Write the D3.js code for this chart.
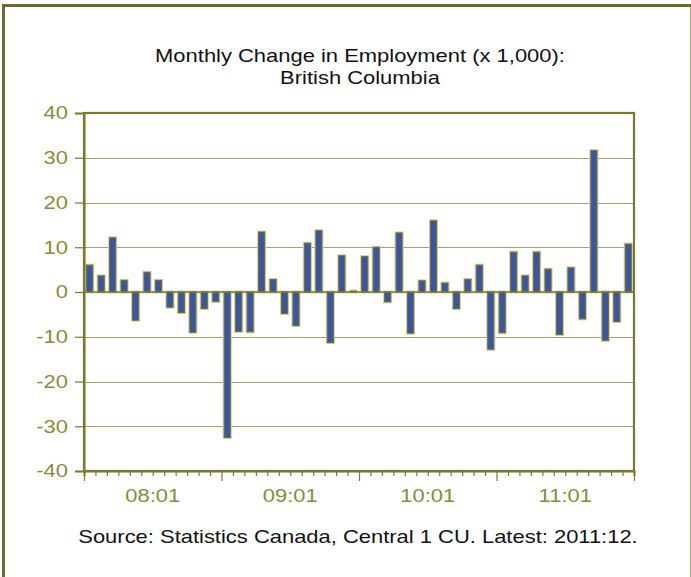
<!DOCTYPE html>
<html>
<head>
<meta charset="utf-8">
<script src="https://cdn.jsdelivr.net/npm/d3@7"></script>
<style>
  html, body { margin: 0; padding: 0; background: #fff; }
  svg { display: block; font-family: "Liberation Sans", Arial, sans-serif; }
</style>
</head>
<body>
<svg id="chart" width="691" height="577"></svg>
<script>
const titleLines = ["Monthly Change in Employment (x 1,000):", "British Columbia"];
const sourceText = "Source: Statistics Canada, Central 1 CU. Latest: 2011:12.";

const years = ["08", "09", "10", "11"];
const monthsInYear = ["01","02","03","04","05","06","07","08","09","10","11","12"];
const categories = [];
years.forEach(y => monthsInYear.forEach(m => categories.push(y + ":" + m)));

const values = [
  6.0, 3.6, 12.1, 2.6, -6.3, 4.4, 2.6, -3.4, -4.6, -9.0, -3.7, -2.1,
  -32.5, -8.8, -8.9, 13.4, 2.8, -4.8, -7.5, 10.9, 13.7, -11.3, 8.1, 0.2,
  7.9, 10.0, -2.2, 13.2, -9.2, 2.5, 15.9, 2.0, -3.7, 2.8, 6.0, -12.8,
  -9.1, 8.9, 3.6, 8.9, 5.1, -9.5, 5.4, -6.0, 31.6, -10.8, -6.6, 10.7
];

const yTicks = [-40, -30, -20, -10, 0, 10, 20, 30, 40];
const xTickLabels = ["08:01", "09:01", "10:01", "11:01"];

const olive = "#7a7a2e";
const labelColor = "#8a8b3a";
const SX = 1.22; // horizontal text stretch seen in the reference

const svg = d3.select("#chart");

// outer border: thick top and left, thin right
svg.append("path").attr("d", "M3.5,577 V5.5 H691")
  .attr("fill", "none").attr("stroke", "#6b6b2b").attr("stroke-width", 3);
svg.append("line").attr("x1", 690.5).attr("x2", 690.5).attr("y1", 7).attr("y2", 577)
  .attr("stroke", "#a8a880").attr("stroke-width", 1);

const plot = { left: 84, right: 634, top: 113, bottom: 471 };

const y = d3.scaleLinear().domain([-40, 40]).range([plot.bottom, plot.top]);
const x = d3.scaleBand().domain(categories).range([plot.left, plot.right])
  .paddingInner(0.47).paddingOuter(0.235);
const xi = d3.scaleLinear().domain([0, categories.length]).range([plot.left, plot.right]);

// gridlines
svg.append("g").selectAll("line").data(yTicks.filter(t => t > -40 && t < 40)).join("line")
  .attr("x1", plot.left).attr("x2", plot.right)
  .attr("y1", d => Math.round(y(d)) + 0.5).attr("y2", d => Math.round(y(d)) + 0.5)
  .attr("stroke", "#a3a36a").attr("stroke-width", 1.2);

// bars (halo + bar)
const zero = y(0);
svg.append("g").selectAll("rect").data(values).join("rect")
  .attr("x", (d, i) => x(categories[i]))
  .attr("width", x.bandwidth())
  .attr("y", d => Math.min(y(d), zero))
  .attr("height", d => Math.abs(y(d) - zero))
  .attr("fill", "none").attr("stroke", "#cfcfa8").attr("stroke-width", 3);
svg.append("g").selectAll("rect").data(values).join("rect")
  .attr("x", (d, i) => x(categories[i]))
  .attr("width", x.bandwidth())
  .attr("y", d => Math.min(y(d), zero))
  .attr("height", d => Math.abs(y(d) - zero))
  .attr("fill", "#3b55a6").attr("stroke", "#6f6f2c").attr("stroke-width", 1);

// zero line
svg.append("line").attr("x1", plot.left).attr("x2", plot.right)
  .attr("y1", zero).attr("y2", zero).attr("stroke", olive).attr("stroke-width", 1.5);

// plot frame
svg.append("rect").attr("x", plot.left).attr("y", plot.top)
  .attr("width", plot.right - plot.left).attr("height", plot.bottom - plot.top)
  .attr("fill", "none").attr("stroke", olive).attr("stroke-width", 2.2);

// y axis
const yAxis = d3.axisLeft(y).tickValues(yTicks).tickSize(9).tickPadding(6).tickFormat(d3.format("d"));
const gy = svg.append("g").attr("transform", `translate(${plot.left},0)`).call(yAxis);
gy.select(".domain").attr("stroke", olive).attr("stroke-width", 2);
gy.selectAll(".tick line").attr("stroke", olive).attr("stroke-width", 1.2);
gy.selectAll(".tick text").attr("fill", labelColor).attr("font-size", 18)
  .attr("font-family", "Liberation Sans, Arial, sans-serif")
  .attr("x", 0).attr("transform", `translate(-16,0) scale(${SX},1)`)
  .text(d => d < 0 ? "-" + Math.abs(d) : d);

// x axis ticks
const tickIdx = d3.range(0, categories.length + 1);
const xAxis = d3.axisBottom(xi).tickValues(tickIdx).tickSize(5).tickFormat("");
const gx = svg.append("g").attr("transform", `translate(0,${plot.bottom})`).call(xAxis);
gx.select(".domain").attr("stroke", olive).attr("stroke-width", 2);
gx.selectAll(".tick line").attr("stroke", olive).attr("stroke-width", 1.2)
  .attr("y2", d => d % 12 === 0 ? 10 : 5);

// x labels centered in each year
svg.append("g").selectAll("text").data(xTickLabels).join("text")
  .attr("transform", (d, i) => `translate(${xi(i * 12 + 6)},502) scale(${SX},1)`)
  .attr("text-anchor", "middle")
  .attr("fill", labelColor).attr("font-size", 18)
  .text(d => d);

// title
svg.append("g").selectAll("text").data(titleLines).join("text")
  .attr("transform", (d, i) => `translate(360,${62 + i * 22}) scale(${SX},1)`)
  .attr("text-anchor", "middle").attr("fill", "#111").attr("font-size", 18)
  .text(d => d);

// source
svg.append("text").attr("transform", `translate(358,543) scale(${SX},1)`).attr("text-anchor", "middle")
  .attr("fill", "#111").attr("font-size", 18).text(sourceText);
</script>
</body>
</html>
